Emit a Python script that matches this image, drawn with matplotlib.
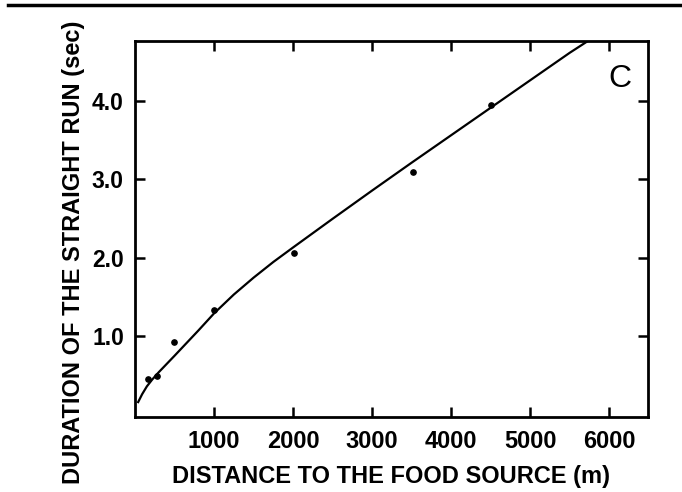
import numpy as np
import matplotlib
matplotlib.use("Agg")
import matplotlib.pyplot as plt
from matplotlib.lines import Line2D

# measured points (distance in m, duration of straight run in s)
distance = [165, 280, 490, 1000, 2010, 3520, 4500]
duration = [0.46, 0.49, 0.92, 1.33, 2.06, 3.09, 3.94]

# fitted curve
curve_x = [40, 90, 150, 220, 300, 400, 500, 650, 800, 1000, 1250, 1500, 1750,
           2000, 2500, 3000, 3500, 4000, 4500, 5000, 5500, 5730]
curve_y = [0.16, 0.26, 0.36, 0.45, 0.54, 0.645, 0.75, 0.91, 1.07, 1.29, 1.53,
           1.745, 1.945, 2.13, 2.495, 2.855, 3.21, 3.56, 3.91, 4.26, 4.61, 4.76]

xticks = [1000, 2000, 3000, 4000, 5000, 6000]
yticks = [1.0, 2.0, 3.0, 4.0]

plt.rcParams['font.family'] = ['Liberation Sans', 'DejaVu Sans']

fig = plt.figure(figsize=(6.82, 4.92), dpi=100)
ax = fig.add_axes([135 / 682, 1 - 417 / 492, 513 / 682, 376 / 492])

ax.plot(curve_x, curve_y, color='black', lw=1.6, solid_joinstyle='round')
ax.plot(distance, duration, 'o', color='black', ms=3.8)

ax.set_xlim(0, 6490)
ax.set_ylim(-0.03, 4.76)
ax.set_xticks(xticks)
ax.set_yticks(yticks)
ax.set_xticklabels([str(t) for t in xticks])
ax.set_yticklabels(['%.1f' % t for t in yticks])

for s in ax.spines.values():
    s.set_linewidth(2.0)
ax.tick_params(direction='in', length=7.5, width=1.8, top=True, right=True)
ax.tick_params(axis='x', pad=9.5, labelsize=17)
ax.tick_params(axis='y', pad=8, labelsize=16.5)
for lab in ax.get_xticklabels() + ax.get_yticklabels():
    lab.set_fontweight('bold')

ax.set_xlabel('DISTANCE TO THE FOOD SOURCE (m)', fontsize=17, fontweight='bold')
ax.xaxis.set_label_coords(0.5, -0.157)
ax.xaxis.label.set_va('center')
ax.set_ylabel('DURATION OF THE STRAIGHT RUN (sec)', fontsize=17, fontweight='bold')
ax.yaxis.set_label_coords(-0.119, 0.4375)
ax.yaxis.label.set_va('center')

ax.text(0.946, 0.900, 'C', transform=ax.transAxes, fontsize=23,
        ha='center', va='center')

# rule across the top of the page
fig.add_artist(Line2D([8 / 682, 1.0], [1 - 5 / 492, 1 - 5 / 492],
                      color='black', lw=2.5))

fig.savefig('out.png', dpi=100)
